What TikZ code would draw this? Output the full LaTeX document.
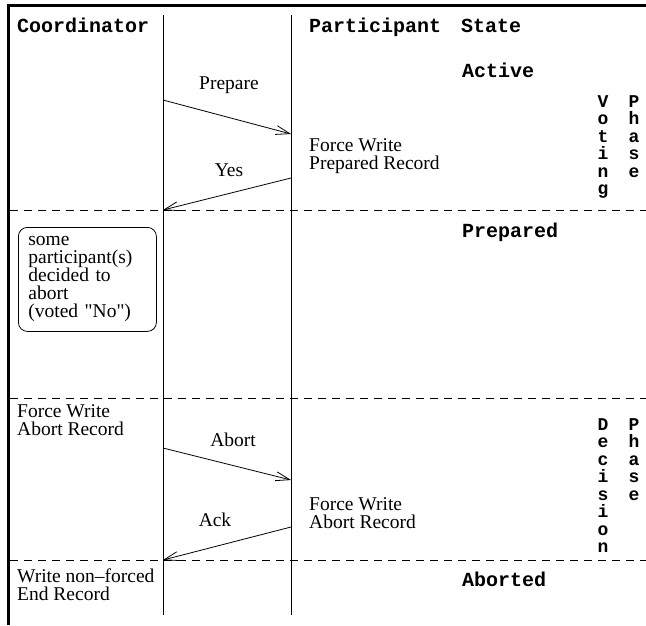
\documentclass[tikz,border=0pt]{standalone}
\usepackage{fontspec}
\setmainfont{Liberation Serif}[Ligatures=TeXOff]
\newfontfamily\cour{Liberation Mono}
\usetikzlibrary{arrows.meta}
\begin{document}
\begin{tikzpicture}[x=1pt,y=-1pt,
  serif/.style={font=\fontsize{19.5}{18}\selectfont, inner sep=0pt},
  mono/.style={font=\cour\bfseries\fontsize{20}{18}\selectfont, inner sep=0pt},
  vmono/.style={font=\cour\bfseries\fontsize{18}{17.5}\selectfont, inner sep=0pt, align=center, anchor=north},
  msg/.style={line width=0.8pt, -{Straight Barb[length=14pt,width=9pt,line width=0.8pt]}},
  life/.style={line width=0.8pt},
  phase/.style={line width=0.8pt, dash pattern=on 8pt off 6pt},
  frame/.style={line width=3pt}]
\useasboundingbox (0,0) rectangle (646,625);

% outer frame (top and left edges)
\draw[frame] (8,625) -- (8,5) -- (646,5);

% lifelines
\coordinate (ctop) at (163,15);
\coordinate (cbot) at (163,615);
\coordinate (ptop) at (291,15);
\coordinate (pbot) at (291,615);
\draw[life] (ctop) -- (cbot);
\draw[life] (ptop) -- (pbot);

% phase separators
\coordinate (s1l) at (10,210);  \coordinate (s1r) at (646,210);
\coordinate (s2l) at (10,398);  \coordinate (s2r) at (646,398);
\coordinate (s3l) at (10,560);  \coordinate (s3r) at (646,560);
\draw[phase] (s1l) -- (s1r);
\draw[phase] (s2l) -- (s2r);
\draw[phase] (s3l) -- (s3r);

% headings and states
\node[mono, anchor=base west] (coord)  at (17,32)  {Coordinator};
\node[mono, anchor=base west] (part)   at (309,32) {Participant};
\node[mono, anchor=base west] (state)  at (461,32) {State};
\node[mono, anchor=base west] (active) at (462,77) {Active};
\node[mono, anchor=base west] (prepd)  at (462,237) {Prepared};
\node[mono, anchor=base west] (abrtd)  at (462,586) {Aborted};

% phase labels
\node[vmono] (voting)   at (603,95)  {V\\o\\t\\i\\n\\g};
\node[vmono] (vphase)   at (634,95)  {P\\h\\a\\s\\e};
\node[vmono] (decision) at (603,418) {D\\e\\c\\i\\s\\i\\o\\n};
\node[vmono] (dphase)   at (634,418) {P\\h\\a\\s\\e};

% voting phase messages
\coordinate (prepA) at (163,100);
\coordinate (prepB) at (291,134);
\draw[msg] (prepA) -- (prepB);
\node[serif] (preplbl) at (229,85) {Prepare};

\node[serif, anchor=north west, align=left] (fwprep) at (309,138) {Force Write\\Prepared Record};

\coordinate (yesA) at (291,178);
\coordinate (yesB) at (163,210);
\draw[msg] (yesA) -- (yesB);
\node[serif] (yeslbl) at (229,170) {Yes};

% abort decision note
\node[serif, draw, line width=0.8pt, rounded corners=9pt, anchor=north west,
      minimum width=138pt, minimum height=104pt, text width=118pt, align=left]
  (note) at (18,227) {some\\participant(s)\\decided to\\abort\\(voted "No")};

% decision phase messages
\node[serif, anchor=north west, align=left] (fwabc) at (17,404) {Force Write\\Abort Record};

\coordinate (abA) at (163,448);
\coordinate (abB) at (291,480);
\draw[msg] (abA) -- (abB);
\node[serif] (ablbl) at (233,440) {Abort};

\node[serif, anchor=north west, align=left] (fwabp) at (309,497) {Force Write\\Abort Record};

\coordinate (ackA) at (291,527);
\coordinate (ackB) at (163,560);
\draw[msg] (ackA) -- (ackB);
\node[serif] (acklbl) at (215,520) {Ack};

\node[serif, anchor=north west, align=left] (endrec) at (17,569) {Write non–forced\\End Record};
\end{tikzpicture}
\end{document}
